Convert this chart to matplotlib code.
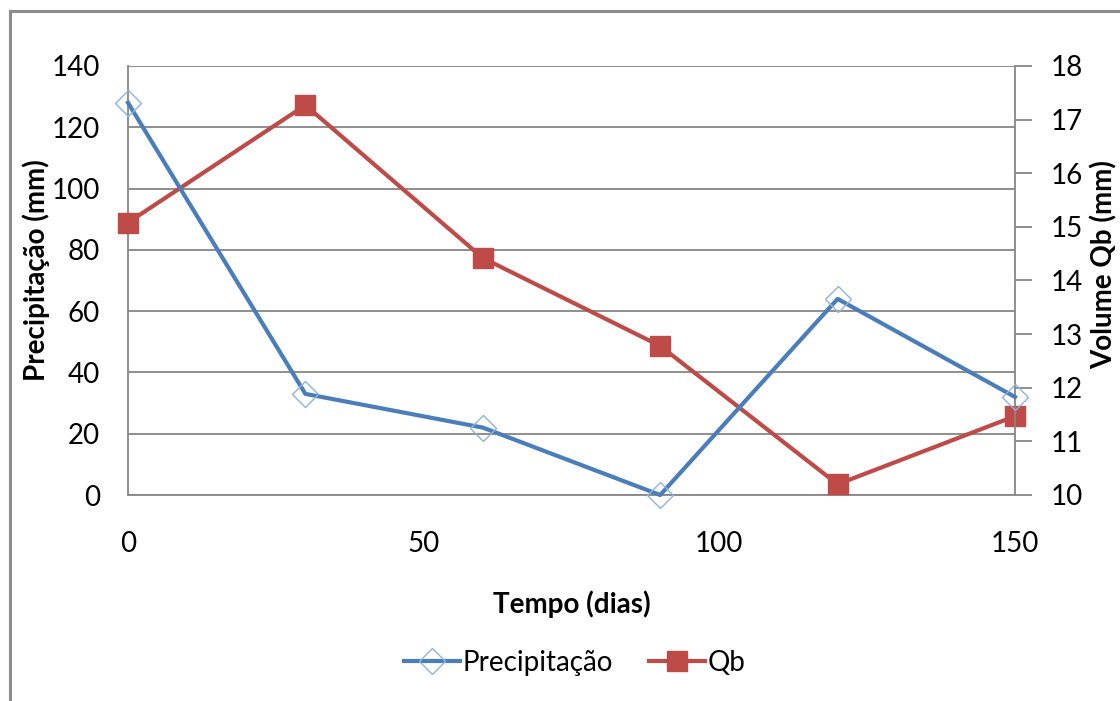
import matplotlib
matplotlib.use("Agg")
import matplotlib.pyplot as plt
from matplotlib.lines import Line2D

# Series data
tempo = [0, 30, 60, 90, 120, 150]
precipitacao = [128, 33, 22, 0, 64, 32]
qb = [15.08, 17.27, 14.42, 12.78, 10.2, 11.47]

x_ticks = [0, 50, 100, 150]
left_ticks = [0, 20, 40, 60, 80, 100, 120, 140]
right_ticks = [10, 11, 12, 13, 14, 15, 16, 17, 18]

BLUE = "#4A7EBB"
RED = "#BE4B48"
GRID = "#868686"
FONT = "Lato"
FS = 20

plt.rcParams["font.family"] = [FONT, "DejaVu Sans"]

W, H = 1120, 701
fig = plt.figure(figsize=(W / 100, H / 100), dpi=100)

# outer chart frame (partially off-canvas)
fig.add_artist(Line2D([10 / W, 10 / W], [0, 1 - 11 / H], color="#8c8c8c", lw=2.2,
                      transform=fig.transFigure))
fig.add_artist(Line2D([10 / W, 1.0], [1 - 11 / H, 1 - 11 / H], color="#8c8c8c", lw=2.2,
                      transform=fig.transFigure))

pos = [128 / W, 1 - 495 / H, (1015 - 128) / W, (495 - 66) / H]
ax1 = fig.add_axes(pos)
ax1.set_xlim(0, 150)
ax1.set_ylim(0, 140)
ax1.set_xticks(x_ticks)
ax1.set_yticks(left_ticks)
ax1.yaxis.grid(True, color=GRID, lw=1.3)
ax1.set_axisbelow(True)
for s in ["top", "right"]:
    ax1.spines[s].set_visible(False)
for s in ["left", "bottom"]:
    ax1.spines[s].set_color(GRID)
    ax1.spines[s].set_linewidth(1.3)
ax1.tick_params(axis="y", length=0, pad=20, labelsize=FS)
ax1.tick_params(axis="x", length=0, pad=26, labelsize=FS)
ax1.set_xlabel("Tempo (dias)", fontsize=FS, fontweight="bold", labelpad=24)
ax1.set_ylabel("Precipitação (mm)", fontsize=FS, fontweight="bold")
ax1.yaxis.set_label_coords(-0.088, 0.524)

# right axis for Qb
ax2 = ax1.twinx()
ax2.set_ylim(10, 18)
ax2.set_yticks(right_ticks)
for s in ["top", "left", "bottom"]:
    ax2.spines[s].set_visible(False)
ax2.spines["right"].set_color(GRID)
ax2.spines["right"].set_linewidth(1.3)
ax2.tick_params(axis="y", length=12, width=1.3, color=GRID, pad=14, labelsize=FS)
ax2.set_ylabel("Volume Qb (mm)", fontsize=FS, fontweight="bold")
ax2.yaxis.set_label_coords(1.085, 0.536)
ln_q, = ax2.plot(tempo, qb, color=RED, lw=3.0, marker="s", markersize=15,
                 markerfacecolor=RED, markeredgecolor=RED, label="Qb", clip_on=False)

# precipitation drawn on top, sharing the left scale
ax3 = fig.add_axes(pos, sharex=ax1, sharey=ax1)
ax3.set_axis_off()
ax3.patch.set_visible(False)
ln_p, = ax3.plot(tempo, precipitacao, color=BLUE, lw=3.0, marker="D", markersize=13,
                 markerfacecolor="none", markeredgecolor="#8DB3E2", markeredgewidth=1.0,
                 label="Precipitação", clip_on=False)

fig.legend(handles=[ln_p, ln_q], loc="center", bbox_to_anchor=(575 / W, 1 - 663 / H),
           ncol=2, frameon=False, fontsize=FS, handlelength=2.0, handletextpad=0.1,
           columnspacing=1.3)

fig.savefig("out.png", dpi=100)
